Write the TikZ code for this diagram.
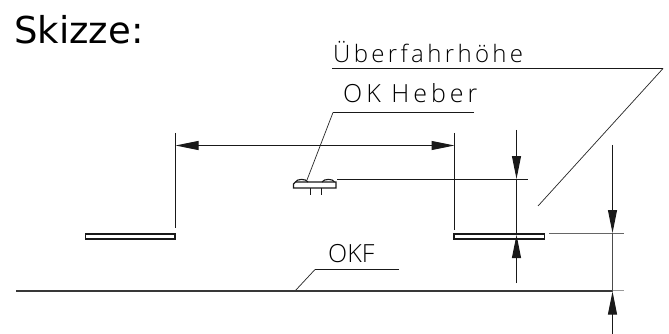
\documentclass[tikz,border=0pt]{standalone}
\usepackage{fontspec}
\setmainfont{DejaVu Sans}
\newfontfamily\cadfont{Open Sans Light}
\usetikzlibrary{arrows.meta}
\tikzset{
 dim/.style={line width=1pt,black!90},
 dimarr/.style={dim,{Triangle[length=23pt,width=9pt]}-{Triangle[length=23pt,width=9pt]}},
 tip/.style={line width=1pt,black!90,-{Triangle[length=23pt,width=9pt]}},
 leader/.style={line width=1pt,black!90},
 slant/.style={line width=0.7pt,black!85},
 plate/.style={draw=black!90,line width=1.3pt,fill=white},
 cad/.style={inner sep=0pt,anchor=base west,text=black},
}
\begin{document}
\begin{tikzpicture}[x=1pt,y=-1pt]
\useasboundingbox (0,0) rectangle (669,334);
\fill[white] (0,0) rectangle (669,334);
\node[inner sep=0pt,anchor=base west,font=\fontsize{37}{38}\selectfont] (title) at (14,44) {Skizze:};
\node[cad,font=\cadfont\addfontfeature{LetterSpace=14}\fontsize{24}{24}\selectfont] (ueber) at (333,63) {Überfahrhöhe};
\node[cad,font=\cadfont\addfontfeature{LetterSpace=16}\fontsize{25}{25}\selectfont] (heber) at (343,103) {OK Heber};
\node[cad,font=\cadfont\fontsize{25}{25}\selectfont] (okf) at (328,262) {OKF};
% leaders
\coordinate (u1) at (332,68.5); \coordinate (u2) at (663,68.5); \coordinate (u3) at (538,206);
\draw[leader] (u1) -- (u2);
\draw[slant] (u2) -- (u3);
\coordinate (h1) at (474,112.5); \coordinate (h2) at (333,112.5); \coordinate (h3) at (307,180);
\draw[leader] (h1) -- (h2);
\draw[slant] (h2) -- (h3);
\coordinate (o1) at (399,269.5); \coordinate (o2) at (315,269.5); \coordinate (o3) at (295,291);
\draw[leader] (o1) -- (o2);
\draw[slant] (o2) -- (o3);
% plates
\draw[plate] (85.5,234) rectangle (175,239);
\draw[plate] (454,234) rectangle (544.5,239);
% ground
\draw[line width=2pt,black!78] (16,291) -- (612,291);
% extension lines
\draw[dim] (175.5,133) -- (175.5,228);
\draw[dim] (454.5,133) -- (454.5,230);
\draw[dim] (337,179.5) -- (528,179.5);
\draw[dim,black!60] (549,233.5) -- (624,233.5);
\draw[dim,black!40] (612,290.5) -- (624,290.5);
% dimensions
\draw[dimarr] (175.5,145.5) -- (454.5,145.5);
\draw[tip] (516.5,130) -- (516.5,179);
\draw[tip] (516.5,283) -- (516.5,235);
\draw[dim] (516.5,179) -- (516.5,235);
\draw[tip] (612.5,145) -- (612.5,233);
\draw[tip] (612.5,334) -- (612.5,291.5);
\draw[dim,black!70] (612.5,233) -- (612.5,291.5);
% heber
\draw[line width=1.3pt,black!90,fill=white] (293.5,188) -- (293.5,184) -- (295.5,182) -- (336,182) -- (336,188) -- cycle;
\draw[line width=1.1pt,black!90] (295.5,182) .. controls (297,178.5) and (306,178.5) .. (308,182);
\draw[line width=1.1pt,black!90] (322,182) .. controls (324,178.5) and (333,178.5) .. (334.5,182);
\draw[line width=0.9pt,black!90] (310,188) -- (310,195) (321,188) -- (321,195);
\end{tikzpicture}
\end{document}
